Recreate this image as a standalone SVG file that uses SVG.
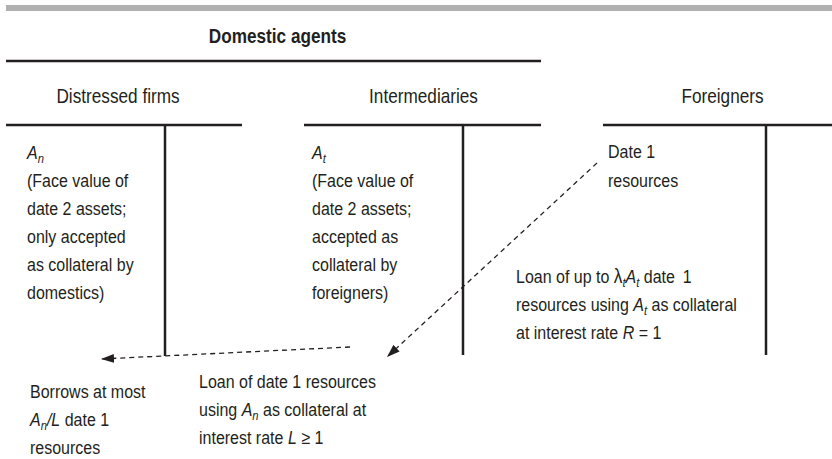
<svg xmlns="http://www.w3.org/2000/svg" width="832" height="459" viewBox="0 0 832 459">
<style>
text{font-family:"Liberation Sans",Arial,sans-serif;fill:#231f20;}
.b{font-size:18.5px;}
.h{font-size:20px;text-anchor:middle;}
.hb{font-size:20px;font-weight:bold;text-anchor:middle;}
.i{font-style:italic;}
.s{font-size:13px;font-style:italic;}
.rule{stroke:#231f20;stroke-width:2.5;fill:none;}
.dash{stroke:#231f20;stroke-width:1.3;fill:none;stroke-dasharray:5 4;}
</style>
<defs>
<marker id="ah" markerUnits="userSpaceOnUse" markerWidth="14" markerHeight="10" refX="13" refY="4.5" orient="auto">
<path d="M0,0 L13,4.5 L0,9 z" fill="#231f20"/>
</marker>
</defs>
<rect x="6" y="5" width="826" height="6" fill="#b0b0b0"/>
<g id="domestic">
<text class="hb" transform="translate(277.5 43) scale(0.86 1)">Domestic agents</text>
<line class="rule" x1="6" y1="61" x2="541" y2="61"/>
</g>
<g id="distressed-firms">
<text class="h" transform="translate(118 103) scale(0.86 1)">Distressed firms</text>
<line class="rule" x1="6" y1="125" x2="242" y2="125"/>
<line class="rule" x1="165" y1="125" x2="165" y2="356"/>
<text class="b" transform="translate(27 159) scale(0.865 1)"><tspan class="i">A</tspan><tspan class="s" dy="4">n</tspan><tspan x="0" dy="24">(Face value of</tspan><tspan x="0" dy="28">date 2 assets;</tspan><tspan x="0" dy="28">only accepted</tspan><tspan x="0" dy="28">as collateral by</tspan><tspan x="0" dy="28">domestics)</tspan></text>
</g>
<g id="intermediaries">
<text class="h" transform="translate(423.5 103) scale(0.86 1)">Intermediaries</text>
<line class="rule" x1="304" y1="125" x2="541" y2="125"/>
<line class="rule" x1="463" y1="125" x2="463" y2="355"/>
<text class="b" transform="translate(312 159) scale(0.865 1)"><tspan class="i">A</tspan><tspan class="s" dy="4">t</tspan><tspan x="0" dy="24">(Face value of</tspan><tspan x="0" dy="28">date 2 assets;</tspan><tspan x="0" dy="28">accepted as</tspan><tspan x="0" dy="28">collateral by</tspan><tspan x="0" dy="28">foreigners)</tspan></text>
</g>
<g id="foreigners">
<text class="h" transform="translate(722.5 103) scale(0.86 1)">Foreigners</text>
<line class="rule" x1="603" y1="125" x2="832" y2="125"/>
<line class="rule" x1="766" y1="125" x2="766" y2="355"/>
<text class="b" transform="translate(608 158) scale(0.865 1)"><tspan>Date 1</tspan><tspan x="0" dy="29">resources</tspan></text>
</g>
<g id="connectors">
<line class="dash" x1="350" y1="347" x2="101" y2="359" marker-end="url(#ah)"/>
<line class="dash" x1="597" y1="163" x2="387" y2="357" marker-end="url(#ah)"/>
</g>
<g id="labels">
<text class="b" transform="translate(516 283) scale(0.865 1)"><tspan>Loan of up to </tspan><tspan style="font-size:20px">λ</tspan><tspan class="s" dy="4">t</tspan><tspan class="i" dy="-4">A</tspan><tspan class="s" dy="4">t</tspan><tspan dy="-4"> date </tspan><tspan dx="4">1</tspan><tspan x="0" dy="28">resources using </tspan><tspan class="i">A</tspan><tspan class="s" dy="4">t</tspan><tspan dy="-4"> as collateral</tspan><tspan x="0" dy="28">at interest rate </tspan><tspan class="i">R</tspan><tspan> = 1</tspan></text>
<text class="b" transform="translate(199 388) scale(0.865 1)"><tspan>Loan of date 1 resources</tspan><tspan x="0" dy="28">using </tspan><tspan class="i">A</tspan><tspan class="s" dy="4">n</tspan><tspan dy="-4"> as collateral at</tspan><tspan x="0" dy="28">interest rate </tspan><tspan class="i">L</tspan><tspan> ≥ 1</tspan></text>
<text class="b" transform="translate(30 398) scale(0.865 1)"><tspan>Borrows at most</tspan><tspan x="0" dy="28" class="i">A</tspan><tspan class="s" dy="4">n</tspan><tspan class="i" dy="-4">/L</tspan><tspan> date 1</tspan><tspan x="0" dy="28">resources</tspan></text>
</g>
</svg>
